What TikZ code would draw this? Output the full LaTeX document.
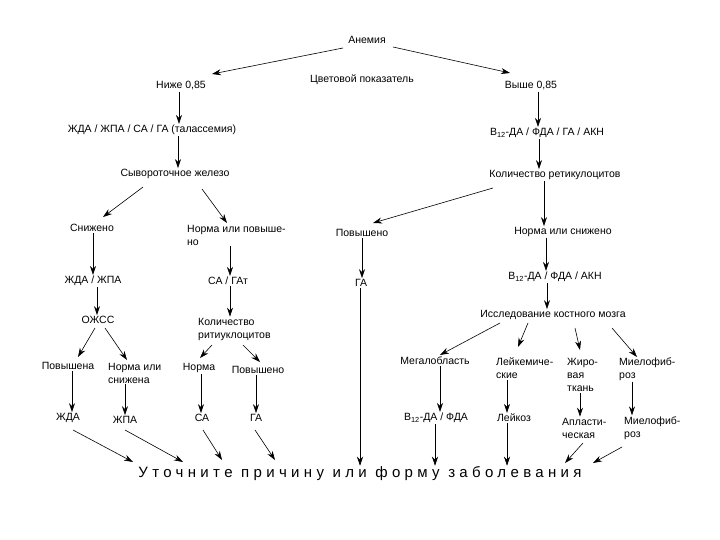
\documentclass[tikz,border=0pt]{standalone}
\usepackage{fontspec}
\setmainfont{Liberation Sans}
\usetikzlibrary{arrows.meta,calc}
\tikzset{
  t/.style={font=\fontsize{10.5}{13}\selectfont, inner sep=1pt, text=black},
  ml/.style={t, anchor=west, align=left},
  big/.style={font=\fontsize{15}{18}\selectfont\addfontfeature{LetterSpace=29}, inner sep=1pt},
  arr/.style={-{Stealth[length=9pt,width=6pt]}, line width=0.6pt, draw=black}
}
\newcommand\vArr[3]{\draw[arr] let \p1=(#1.south), \p2=(#2.north) in (#3pt,\y1) -- (#3pt,\y2);}
\newcommand\dArr[4]{\draw[arr] ($(#1)+(#2)$) -- ($(#3)+(#4)$);}
\begin{document}
\begin{tikzpicture}[x=1pt,y=-1pt]
\useasboundingbox[fill=white] (0,0) rectangle (720,540);
% level 0-1
\node[t] (anemia) at (367,40) {Анемия};
\node[t] (nizhe) at (181,86) {Ниже 0,85};
\node[t] (cp) at (362,80) {Цветовой показатель};
\node[t] (vyshe) at (531,86) {Выше 0,85};
\node[t] (g1) at (152,130) {ЖДА / ЖПА / СА / ГА (талассемия)};
\node[t] (g2) at (547,133) {В\textsubscript{12}-ДА / ФДА / ГА / АКН};
\node[t] (se) at (175,174) {Сывороточное железо};
\node[t] (kr) at (555,175) {Количество ретикулоцитов};
\node[t] (sn) at (92,228) {Снижено};
\node[ml] (np) at (186,235) {Норма или повыше-\\но};
\node[t] (pov) at (362,233) {Повышено};
\node[t] (ns) at (563,232) {Норма или снижено};
\node[t] (zz) at (93,281) {ЖДА / ЖПА};
\node[t] (sg) at (228,281) {СА / ГАт};
\node[t] (ga) at (361,283) {ГА};
\node[t] (bfa) at (555,277) {В\textsubscript{12}-ДА / ФДА / АКН};
\node[t] (ozhss) at (98,320) {ОЖСС};
\node[ml] (kr2) at (197,329) {Количество\\ритиуклоцитов};
\node[t] (ikm) at (553,315) {Исследование костного мозга};
\node[t] (pna) at (68,366) {Повышена};
\node[ml] (nis) at (107,373) {Норма или\\снижена};
\node[t] (norma) at (199,368) {Норма};
\node[t] (pvo) at (258,370) {Повышено};
\node[t] (meg) at (435,361) {Мегалобласть};
\node[ml] (lk) at (495,368) {Лейкемиче-\\ские};
\node[ml] (zhir) at (566,375) {Жиро-\\вая\\ткань};
\node[ml] (mf) at (618,369) {Миелофиб-\\роз};
\node[t] (zhda) at (68,418) {ЖДА};
\node[t] (zhpa) at (125,420) {ЖПА};
\node[t] (sa) at (202,418) {СА};
\node[t] (ga2) at (256,418) {ГА};
\node[t] (bf) at (436,418) {В\textsubscript{12}-ДА / ФДА};
\node[t] (lz) at (514,418) {Лейкоз};
\node[ml] (apl) at (561,428) {Апласти-\\ческая};
\node[ml] (mfr) at (623,428) {Миелофиб-\\роз};
\node[big] (ut) at (360,474) {Уточните причину или форму заболевания};
% diagonal connectors
\dArr{anemia}{-24,8}{nizhe}{31,-12}
\dArr{anemia}{26,7}{vyshe}{-21,-13}
\dArr{se}{-32,13}{sn}{11,-11}
\dArr{se}{27,15}{np.west}{41,-12}
\dArr{kr}{-62,13}{pov}{11,-10}
\dArr{ozhss}{-3,8}{pna}{10,-9}
\dArr{ozhss}{7,8}{nis.west}{20,-13}
\dArr{kr2.west}{15,16}{norma}{1,-10}
\dArr{kr2.west}{46,16}{pvo}{2,-8}
\dArr{ikm}{-53,8}{meg}{5,-6}
\dArr{ikm}{-25,8}{lk.west}{23,-21}
\dArr{ikm}{22,13}{zhir.west}{14,-25}
\dArr{ikm}{59,13}{mf.west}{19,-12}
\dArr{zhda}{5,12}{ut}{-227,-12}
\dArr{zhpa}{0,10}{ut}{-177,-12}
\dArr{sa}{1,12}{ut}{-138,-14}
\dArr{ga2}{-1,12}{ut}{-85,-14}
\dArr{apl.west}{22,15}{ut}{205,-11}
\dArr{mfr.west}{-1,19}{ut}{233,-11}
% vertical connectors
\vArr{nizhe}{g1}{179}
\vArr{vyshe}{g2}{538}
\vArr{g1}{se}{178}
\vArr{g2}{kr}{539}
\vArr{kr}{ns}{544}
\vArr{sn}{zz}{93}
\vArr{np}{sg}{230}
\vArr{pov}{ga}{362}
\vArr{ns}{bfa}{546}
\vArr{zz}{ozhss}{97}
\vArr{sg}{kr2}{230}
\vArr{bfa}{ikm}{547}
\vArr{pna}{zhda}{72}
\vArr{nis}{zhpa}{125}
\vArr{norma}{sa}{201}
\vArr{pvo}{ga2}{256}
\vArr{meg}{bf}{440}
\vArr{lk}{lz}{507}
\vArr{zhir}{apl}{580}
\vArr{mf}{mfr}{632}
\vArr{ga}{ut}{360}
\vArr{bf}{ut}{435}
\vArr{lz}{ut}{507}
\end{tikzpicture}
\end{document}
